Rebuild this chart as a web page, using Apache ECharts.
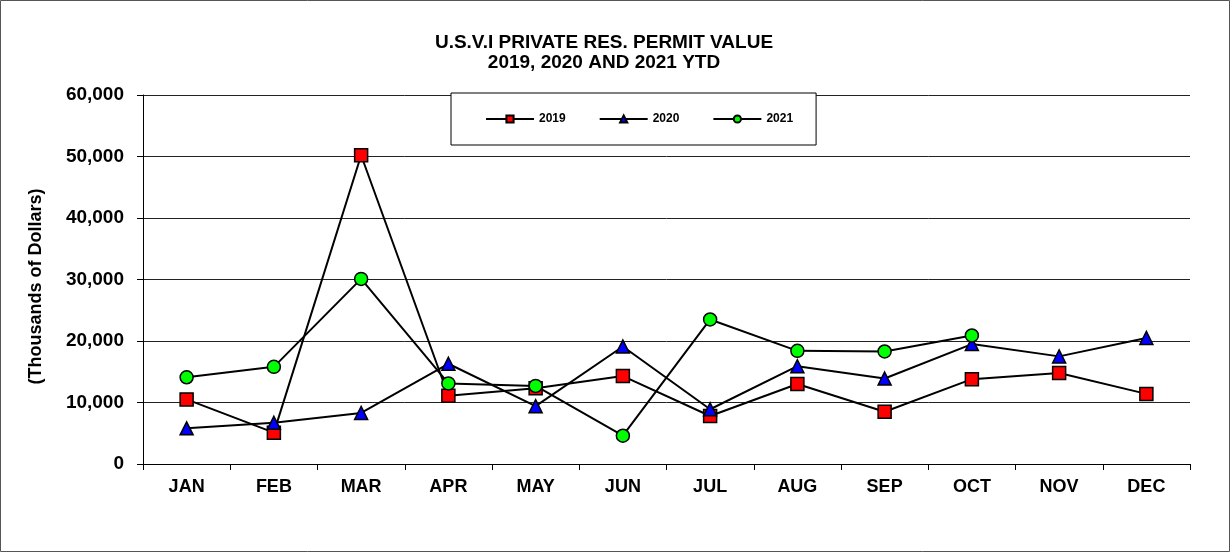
<!DOCTYPE html>
<html>
<head>
<meta charset="utf-8">
<script src="https://cdn.jsdelivr.net/npm/echarts@6/dist/echarts.min.js"></script>
<style>
html,body{margin:0;padding:0;background:#fff;}
#chart{width:1230px;height:552px;}
</style>
</head>
<body>
<div id="chart"></div>
<script>
const months = ['JAN','FEB','MAR','APR','MAY','JUN','JUL','AUG','SEP','OCT','NOV','DEC'];
const v2019 = [10500, 5100, 50200, 11100, 12300, 14300, 7800, 13000, 8500, 13800, 14800, 11400];
const v2020 = [5800, 6700, 8300, 16300, 9400, 19100, 8900, 15900, 13900, 19500, 17500, 20500];
const v2021 = [14100, 15800, 30100, 13100, 12700, 4600, 23500, 18400, 18300, 20900, null, null];
const seriesNames = ['2019', '2020', '2021'];
const titleText = 'U.S.V.I PRIVATE RES. PERMIT VALUE\n2019, 2020 AND 2021 YTD';
const yAxisTitle = '(Thousands of Dollars)';

const FONT = '"Liberation Sans", Arial, sans-serif';
const chart = echarts.init(document.getElementById('chart'), null, {renderer: 'canvas'});

function mkSeries(name, data, symbol, color, size) {
  return {
    name: name,
    type: 'line',
    data: data,
    symbol: symbol,
    symbolSize: size,
    connectNulls: false,
    lineStyle: {color: '#000', width: 2},
    itemStyle: {color: color, borderColor: '#000', borderWidth: 1.5},
    emphasis: {disabled: true},
    animation: false,
    z: 3
  };
}

chart.setOption({
  animation: false,
  backgroundColor: '#fff',
  title: {
    text: titleText,
    left: 599,
    textAlign: 'center',
    top: 28,
    textStyle: {fontFamily: FONT, fontSize: 19, fontWeight: 'bold', color: '#000', lineHeight: 20}
  },
  graphic: [{
    type: 'rect',
    shape: {x: 0.5, y: 0.5, width: 1229, height: 551},
    style: {fill: 'none', stroke: '#555', lineWidth: 1},
    silent: true,
    z: 0
  }],
  legend: {
    left: 451,
    top: 93,
    padding: [20, 23, 20, 34],
    itemGap: 33,
    itemWidth: 48,
    itemHeight: 9,
    backgroundColor: '#fff',
    borderColor: '#000',
    borderWidth: 1,
    z: 10,
    data: seriesNames,
    textStyle: {fontFamily: FONT, fontSize: 12, fontWeight: 'bold', color: '#000'}
  },
  grid: {left: 143, right: 40, top: 95, bottom: 88, containLabel: false},
  xAxis: {
    type: 'category',
    data: months,
    boundaryGap: true,
    axisLine: {lineStyle: {color: '#000', width: 1}},
    axisTick: {show: true, interval: 0, length: 6, lineStyle: {color: '#000'}},
    axisLabel: {fontFamily: FONT, fontSize: 18, fontWeight: 'bold', color: '#000', margin: 14, interval: 0},
    splitLine: {show: false}
  },
  yAxis: {
    type: 'value',
    min: 0,
    max: 60000,
    interval: 10000,
    name: yAxisTitle,
    nameLocation: 'middle',
    nameRotate: 90,
    nameGap: 98,
    nameTextStyle: {fontFamily: FONT, fontSize: 18, fontWeight: 'bold', color: '#000', padding: [0, 14, 0, 0]},
    axisLine: {show: true, lineStyle: {color: '#000', width: 1}},
    axisTick: {show: true, length: 6, lineStyle: {color: '#000'}},
    axisLabel: {
      fontFamily: FONT, fontSize: 19, fontWeight: 'bold', color: '#000', margin: 19,
      formatter: function (v) { return v.toLocaleString('en-US'); }
    },
    splitLine: {show: true, lineStyle: {color: '#222', width: 1}}
  },
  series: [
    mkSeries(seriesNames[0], v2019, 'rect', '#ff0000', 13),
    mkSeries(seriesNames[1], v2020, 'triangle', '#0000ff', 13),
    mkSeries(seriesNames[2], v2021, 'circle', '#00ff00', 13)
  ]
});
</script>
</body>
</html>
